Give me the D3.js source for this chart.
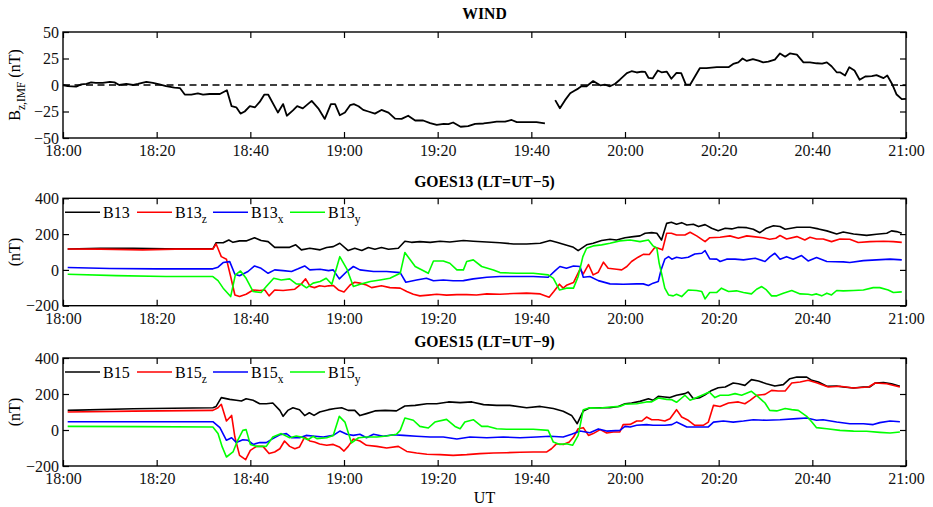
<!DOCTYPE html>
<html>
<head>
<meta charset="utf-8">
<script src="https://cdn.jsdelivr.net/npm/d3@7"></script>
<style>
  body { margin: 0; background: #fff; }
  svg { display: block; font-family: "Liberation Serif", "Times New Roman", serif; }
  svg text { font-family: "Liberation Serif", "Times New Roman", serif; }
</style>
</head>
<body>
<svg id="chart" width="933" height="507"></svg>
<script>
// Time axis: minutes after 18:00 UT
const timeTicks = [0, 20, 40, 60, 80, 100, 120, 140, 160, 180];
const timeLabels = ["18:00", "18:20", "18:40", "19:00", "19:20", "19:40", "20:00", "20:20", "20:40", "21:00"];

const windTicks = [-50, -25, 0, 25, 50];
const goesTicks = [-200, 0, 200, 400];

// WIND IMF Bz (nT); null marks the data gap
const windBz = [[0,0],[1,-1],[2.8,-1.5],[3.9,0.6],[5,1],[6,2.5],[7,2],[8.5,2],[10,3],[11,2.5],[12,0],[13.5,1],[15,0],[16,1],[17.8,3],[19.2,2],[20.6,0.6],[22,-1],[23.8,-2.5],[25,-3],[26,-9],[27.4,-9],[28.8,-8],[29.9,-9],[31.3,-8.5],[33.5,-8.5],[35,-5],[36,-20],[37,-21],[37.9,-27],[38.8,-25],[39.9,-20],[41,-21],[42,-16],[43,-9],[43.8,-9],[45.9,-26],[47,-18],[47.8,-29],[49.1,-24],[50,-20],[51.2,-22],[53.1,-15],[54.5,-22],[55.9,-32],[57.2,-18],[58.1,-18],[59.1,-28.5],[60.2,-26],[61.3,-19],[62.1,-18],[63.1,-20],[64.1,-23.5],[65.2,-25],[66.6,-27],[68,-23.5],[69.5,-26],[70.9,-31.7],[72.3,-32],[73.7,-29],[75.2,-33.5],[76.9,-33.5],[78.4,-36],[79.8,-37.6],[81.3,-36.6],[82.3,-37],[83.3,-35.4],[84.9,-39.4],[86.5,-38.8],[88,-36.6],[89.8,-36.3],[91.2,-35.4],[92.6,-34.5],[94.4,-34.5],[95.8,-33],[96.9,-35],[99,-35],[101.1,-35],[102.9,-36.3],[104,null],[105.1,-14.3],[106.1,-22],[107.2,-14.3],[108.3,-7.8],[109.1,-5.6],[110,-3.4],[110.7,-1.2],[111.8,-1.2],[113.2,3.7],[114.7,-0.3],[115.7,0.3],[116.8,-1.2],[117.9,1.2],[118.9,5],[120.4,11.2],[121.4,13],[122.5,11.8],[123.6,12.7],[124.3,12.4],[125,6.8],[125.9,6.2],[127,13.7],[127.8,12],[128.9,12.7],[129.9,5.9],[131,11.5],[132,11.2],[133,0.3],[133.9,0.3],[136,16],[137.4,16],[139.6,16.8],[142.1,16.8],[143.1,19.9],[144.2,21.4],[145.1,25],[146,22.7],[147.3,24.5],[148.5,23],[149.5,21.4],[150.6,22],[152,24],[153.1,29.8],[154.2,26.7],[155.2,29.8],[156.7,28.6],[158.1,21.4],[159.5,21.4],[160.9,20.5],[162.1,20.2],[163.1,21.4],[164.1,17.7],[165.2,12],[165.9,12],[167,9],[167.9,16.8],[169,13.7],[170.1,5],[171.3,8],[172.7,8.4],[173.7,9.3],[175.2,6.5],[176,9],[177,1.2],[178,-9],[179.1,-13.3],[180,-13]];

// GOES13 magnetometer (nT)
const g13B = [[1,117],[8,120],[15,121],[22,118],[32,118],[32.7,152],[34.2,152],[35.4,167],[36.3,154],[37.7,162],[39.1,162],[40.9,180],[42.3,164],[43.8,158],[45.2,126],[46.6,126],[48.4,126],[49.7,140],[50.9,112],[52.7,121],[54.9,112],[56.3,125],[57.7,130],[59.1,149],[60.9,108],[62.3,121],[63.8,108],[65.2,125],[66.6,115],[68,125],[69.5,115],[71.6,121],[73,160],[74.4,154],[76.2,158],[78.4,154],[80.5,160],[82.6,156],[85.5,164],[87.6,160],[90.5,156],[93.3,152],[96.2,145],[99,145],[101.9,149],[104,164],[105.4,154],[109,126],[110,108],[111.8,140],[113.2,149],[115,164],[116.8,171],[118.2,167],[120,180],[121.8,186],[123.2,190],[124.3,205],[125.7,208],[126.8,205],[127.8,167],[128.9,260],[129.9,266],[131,255],[132.1,264],[133.2,251],[134.6,255],[135.7,242],[137.1,253],[138.5,233],[139.9,219],[141.4,233],[142.8,229],[144.2,238],[146,236],[147.4,227],[148.8,208],[150.2,233],[151.7,247],[153.1,242],[154.2,227],[156.7,238],[159.5,238],[161.3,229],[163.1,218],[165.2,201],[166.6,212],[168.8,201],[171.6,193],[173.7,199],[175.9,205],[176.9,218],[178,214],[179.1,205]];
const g13Bz = [[1,117],[8,116],[17,112],[24,116],[32,116],[32.7,145],[33.8,74],[34.9,60],[35.8,-37],[36.7,-140],[37.7,-149],[39.1,-136],[40.6,-112],[42,-115],[43.1,-112],[44,-145],[45.2,-112],[47,-115],[49.5,-108],[50.9,-78],[51.8,-50],[52.8,-93],[53.7,-99],[54.8,-89],[55.9,-93],[56.7,-89],[57.7,-87],[58.8,-112],[60,-123],[61.3,-84],[62.3,-69],[63.4,-74],[64.8,-84],[65.9,-99],[68,-89],[69.8,-99],[72,-102],[73.4,-121],[74.8,-136],[76.2,-145],[78,-141],[79.8,-136],[81.9,-141],[84.1,-138],[86.2,-138],[88.3,-140],[90.5,-134],[93.3,-136],[96.2,-132],[99,-130],[101.9,-134],[103.8,-153],[104.8,-121],[106,-80],[106.8,-102],[107.5,-86],[109,-71],[110.4,4],[111.1,-22],[112.2,30],[113.2,-28],[114.3,-13],[115.4,43],[116.4,9],[118.2,4],[119.3,0],[120.4,19],[121.4,47],[122.8,71],[123.9,87],[125.2,86],[126.4,126],[127.1,121],[128,112],[128.9,205],[129.9,205],[131,195],[132.8,195],[133.9,210],[135.3,190],[137.1,158],[138.1,180],[140.3,182],[142.4,190],[144.2,177],[146,190],[147.4,186],[149.5,180],[150.9,171],[152.2,177],[153.1,192],[154.5,173],[156.7,186],[158.4,167],[159.5,182],[160.9,173],[162.3,173],[164.1,158],[165.9,173],[168,171],[169.8,153],[172.3,158],[175.2,160],[177.3,158],[179.1,154]];
const g13Bx = [[1,13],[10,8],[20,6],[32,6],[33.1,15],[34.2,41],[35.6,46],[36.7,-24],[37.7,-33],[39.5,-9],[40.9,22],[42.3,9],[43.8,-19],[45.2,0],[47,-4],[48.8,-9],[50.2,6],[51.6,22],[52.7,0],[54.9,4],[56.7,-4],[57.7,0],[59,-50],[60.6,-9],[62,19],[63.4,0],[66.3,-9],[69.1,-9],[72,-15],[73.2,-69],[75.5,-56],[77.6,-47],[79.1,-61],[81.2,-56],[83.3,-61],[85.5,-60],[87.6,-50],[90.5,-41],[93.3,-37],[96.9,-37],[100.4,-37],[103.6,-41],[105.1,-4],[106.1,19],[107.5,9],[109,22],[110.4,19],[111.1,-41],[112.5,-37],[114.3,-60],[116.8,-78],[119.6,-80],[122.5,-78],[123.9,-78],[125,-87],[126,-74],[127.1,-65],[127.7,0],[128.5,60],[129.3,74],[130,60],[131,71],[132.1,65],[133.5,71],[134.9,89],[136.4,93],[137.1,108],[138.1,61],[139.6,60],[140.3,47],[141.7,60],[143.5,60],[145.3,56],[147.8,65],[149.9,47],[151,74],[152,93],[153.1,60],[154.5,74],[155.9,60],[157.7,80],[159.1,50],[160.9,69],[163.1,47],[166.6,45],[168,41],[170.9,52],[173.7,56],[176.6,60],[179.1,56]];
const g13By = [[1,-24],[11.4,-32],[22,-37],[32,-37],[33.1,-60],[34.2,-102],[35.8,-149],[36.8,-28],[37.9,-6],[39.1,-47],[40.6,-121],[42.3,-126],[43.4,-93],[45,-47],[46.6,-56],[48.4,-50],[49.8,-78],[50.9,-80],[52,-100],[53.4,-74],[54.9,-65],[56.2,-47],[57.4,-80],[59.1,74],[60.6,6],[62,-93],[63.8,-78],[65.6,-65],[67.7,-56],[69.8,-47],[72,-19],[73,97],[75.2,19],[78,-19],[79.1,50],[81.2,50],[82.6,37],[84.1,0],[85.5,0],[86.2,47],[87.6,56],[89.4,19],[91.9,0],[93.3,-15],[96.9,-19],[100.4,-19],[103.6,-28],[104.7,-47],[106,-112],[107.5,-102],[109,-102],[110,-37],[111,74],[111.8,121],[113.2,134],[115,140],[116.8,149],[118.9,162],[121.1,167],[123.2,158],[125,167],[126,134],[126.8,121],[127.3,37],[127.8,-19],[128.5,-102],[129.3,-140],[130.3,-145],[131,-136],[132.1,-149],[133.5,-112],[135.3,-115],[136.4,-121],[137.1,-162],[138.1,-126],[139.6,-126],[140.6,-102],[142.1,-121],[143.8,-117],[145.3,-126],[147,-134],[148.1,-108],[149.2,-93],[150.2,-112],[151.3,-145],[152.4,-145],[153.8,-130],[155.6,-115],[157.4,-134],[159.1,-136],[159.9,-140],[160.9,-134],[162,-145],[163.1,-130],[164.1,-140],[165.2,-115],[166.6,-117],[168.8,-115],[170.9,-112],[173,-99],[174.4,-99],[176.2,-112],[177.3,-126],[179.1,-123]];

// GOES15 magnetometer (nT)
const g15B = [[1,109],[15,118],[32,124],[32.7,131],[33.8,180],[35.6,170],[37,165],[38.1,161],[39.1,174],[40.6,165],[42,146],[43.4,146],[44.8,150],[46.3,109],[47,76],[48,109],[49.1,124],[50.5,113],[51.6,80],[52.6,96],[53.6,81],[54.8,100],[56.7,113],[58.1,119],[59.5,124],[60.9,109],[62.3,109],[63.4,80],[64.8,91],[66.6,106],[68.8,109],[71.2,106],[73,133],[75.2,137],[77.7,146],[79.8,146],[82.3,156],[84.8,152],[87.3,156],[89.8,141],[92.6,137],[95.4,137],[99,124],[101.9,131],[104.7,119],[106.8,104],[108.6,81],[109.8,35],[111.1,106],[112.5,124],[114.7,124],[116.8,124],[118.6,131],[120,146],[121.4,150],[123.2,159],[125,174],[126,165],[127.1,187],[128.5,183],[129.6,180],[131,193],[132.8,202],[133.5,211],[134.6,174],[136,180],[137.1,196],[138.5,220],[139.9,235],[141.4,239],[143.1,261],[144.2,257],[145.6,248],[147,280],[148.5,272],[150.2,257],[152,244],[153.8,252],[155.2,285],[156.7,294],[158.8,294],[159.9,276],[161.3,267],[163.1,243],[165.2,244],[166.6,239],[168.8,233],[170.9,239],[172.3,239],[173.4,261],[175.2,263],[176.9,257],[178.7,243]];
const g15Bz = [[1,100],[15,105],[32,109],[33.1,124],[33.8,143],[34.9,50],[36,81],[36.7,-39],[37.7,-141],[39,-165],[40,-113],[41.3,-91],[42.7,-91],[44,-131],[45.2,-122],[46.3,-104],[47.3,-61],[48.4,-91],[49.5,-104],[50.5,-94],[51.6,-39],[52.7,-61],[53.7,-67],[54.8,-78],[56.3,-85],[57.7,-80],[59,-94],[60,-117],[60.9,-91],[62,-50],[63.4,-61],[64.8,-85],[67,-91],[69.1,-100],[71.6,-91],[73.4,-119],[75.5,-128],[77.7,-135],[80.5,-137],[83.3,-141],[86.2,-137],[89,-131],[91.9,-128],[94.7,-126],[97.6,-124],[100.4,-122],[103.3,-122],[104.3,-104],[105.4,-76],[106.8,-81],[108.1,-67],[109,-39],[110,7],[111.1,13],[112.2,-30],[113.2,-20],[114.7,2],[116.1,-17],[117.5,-11],[118.9,-11],[119.6,30],[121.1,31],[122.5,50],[123.6,50],[124.6,72],[125.7,57],[127.1,57],[128.5,50],[129.6,63],[131,113],[132.1,72],[133.5,54],[134.9,26],[136.7,26],[137.8,44],[138.9,137],[140.3,131],[142.1,150],[144.2,156],[145.6,146],[146.7,165],[148.1,193],[149.9,198],[151.3,220],[152.7,217],[154.2,217],[155.6,261],[157.4,267],[159.1,276],[160.9,263],[163.4,239],[165.9,243],[168.8,233],[172,239],[173.4,261],[175.9,257],[178.7,239]];
const g15Bx = [[1,46],[32,46],[33.5,13],[34.9,-57],[36,-43],[37,-69],[38.4,-54],[39.5,-57],[40.6,-80],[42,-70],[43.4,-70],[44.8,-48],[46.3,-26],[47.7,-20],[48.8,-43],[50.5,-43],[51.9,-30],[53.8,-35],[55.6,-39],[57.7,-30],[59.1,-6],[60.6,-24],[62,-30],[63.4,-24],[64.8,-43],[66.3,-24],[68.4,-35],[70.5,-26],[72.7,-30],[75.5,-35],[78.4,-39],[81.2,-39],[84.1,-50],[86.9,-39],[90.5,-43],[94,-39],[97.6,-43],[101.1,-39],[104,-35],[106.8,-39],[108.6,-24],[110.4,-6],[112.5,-15],[114.3,6],[116.1,-6],[118.9,-2],[120,20],[121.1,17],[122.5,26],[124.6,30],[126,26],[128.5,26],[130,30],[131,44],[132.1,31],[133.2,17],[135.3,17],[137.8,17],[138.9,44],[141,50],[143.1,44],[145.3,50],[147.4,57],[150.2,54],[153.1,57],[156.7,63],[158.8,67],[160.9,54],[162.3,57],[165.2,44],[168,35],[170.9,35],[173,30],[174.4,41],[176.6,50],[178.7,46]];
const g15By = [[1,20],[16,19],[32,17],[33.1,-20],[34,-94],[34.9,-150],[36.3,-122],[37.3,-57],[38.4,-2],[39.1,2],[40,-80],[41.3,-91],[43.4,-91],[44.8,-39],[46.6,-20],[48.4,-43],[49.8,-33],[50.9,-39],[52.3,-54],[53.4,-35],[54.2,-48],[56.3,-43],[57.7,-30],[59,76],[60.2,44],[61.6,-72],[63.1,-43],[64.8,-39],[67,-39],[69.1,-33],[71.2,-24],[72,-2],[73,67],[74.8,54],[76.2,20],[78,11],[79.4,44],[81.9,59],[83.7,20],[84.8,7],[85.8,44],[87.6,57],[89.4,20],[90.8,20],[92.6,7],[94.7,4],[97.6,4],[100.4,4],[103.6,-2],[104.7,-67],[106.1,-80],[107.5,-76],[108.8,-85],[110,-30],[111.1,113],[112.5,124],[114.7,122],[116.8,128],[118.9,131],[120,143],[122.5,146],[124.6,156],[125.7,156],[127.1,178],[128.9,170],[129.9,169],[131,154],[132.8,193],[133.9,165],[135.3,180],[136.7,196],[138,211],[139.2,180],[140.3,193],[142.1,193],[143.5,202],[144.9,193],[147,215],[148.5,183],[149.9,150],[150.9,109],[152.4,106],[154.2,119],[155.6,113],[157,109],[158.8,76],[159.9,44],[160.9,13],[163.1,7],[165.9,-2],[168.8,-6],[171.6,-7],[174.4,-13],[176.6,-17],[178.7,-11]];

const seriesColors = ["#000000", "#ff0000", "#0000ff", "#00ff00"];
const componentSubs = ["", "z", "x", "y"];

const svg = d3.select("#chart");
const x = d3.scaleLinear().domain([0, 180]).range([63, 906]);

// strip the axis domain path and restyle tick text
function styleAxis(a) {
  a.attr("font-family", null).attr("font-size", 16);
  a.select(".domain").remove();
  a.selectAll("text").attr("fill", "#111");
}

function drawPanel(p) {
  const y = d3.scaleLinear().domain(p.domain).range([p.bottom, p.top]);
  const g = svg.append("g");

  // axes with inward ticks
  g.append("g").attr("transform", `translate(0,${p.bottom})`)
    .call(d3.axisBottom(x).tickValues(timeTicks).tickSize(-6).tickPadding(7)
      .tickFormat((d, i) => timeLabels[i]))
    .call(styleAxis);
  g.append("g").attr("transform", `translate(0,${p.top})`)
    .call(d3.axisTop(x).tickValues(timeTicks).tickSize(-6).tickFormat(""))
    .call(styleAxis);
  g.append("g").attr("transform", `translate(${x(0)},0)`)
    .call(d3.axisLeft(y).tickValues(p.ticks).tickSize(-6).tickPadding(4))
    .call(styleAxis);
  g.append("g").attr("transform", `translate(${x(180)},0)`)
    .call(d3.axisRight(y).tickValues(p.ticks).tickSize(-6).tickFormat(""))
    .call(styleAxis);
  g.selectAll(".tick line").attr("stroke", "#000").attr("stroke-width", 1.2);

  if (p.zeroLine) {
    g.append("line")
      .attr("x1", x(0)).attr("x2", x(180))
      .attr("y1", y(0)).attr("y2", y(0))
      .attr("stroke", "#000").attr("stroke-width", 1.3)
      .attr("stroke-dasharray", "7,4.5");
  }

  const line = d3.line()
    .defined(d => d[1] !== null)
    .x(d => x(d[0])).y(d => y(d[1]));

  p.series.forEach((s, i) => {
    g.append("path").datum(s)
      .attr("fill", "none")
      .attr("stroke", seriesColors[i])
      .attr("stroke-width", p.width || 1.6)
      .attr("stroke-linejoin", "round")
      .attr("d", line);
  });

  // frame
  g.append("rect")
    .attr("x", x(0)).attr("y", p.top)
    .attr("width", x(180) - x(0)).attr("height", p.bottom - p.top)
    .attr("fill", "none").attr("stroke", "#000").attr("stroke-width", 1.4);

  // title
  g.append("text").attr("x", (x(0) + x(180)) / 2).attr("y", p.titleY)
    .attr("text-anchor", "middle").attr("font-weight", "bold").attr("font-size", 15.7)
    .text(p.title);

  // y label
  const yl = g.append("text")
    .attr("transform", `translate(20,${(p.top + p.bottom) / 2}) rotate(-90)`)
    .attr("text-anchor", "middle").attr("font-size", 16);
  p.yLabel.forEach(part => {
    const t = yl.append("tspan").text(part.text);
    if (part.sub) t.attr("font-size", 11.5).attr("dy", 5);
    if (part.after) t.attr("dy", -5);
  });

  // legend
  if (p.legend) {
    const lx = [65, 137, 213, 290];
    const ly = p.top + 14;
    p.legend.forEach((name, i) => {
      g.append("line")
        .attr("x1", lx[i]).attr("x2", lx[i] + 35)
        .attr("y1", ly).attr("y2", ly)
        .attr("stroke", seriesColors[i]).attr("stroke-width", 1.6);
      const t = g.append("text").attr("x", lx[i] + 38).attr("y", ly + 6)
        .attr("font-size", 16);
      t.append("tspan").text(name);
      if (componentSubs[i]) {
        t.append("tspan").attr("font-size", 11.5).attr("dy", 5).text(componentSubs[i]);
      }
    });
  }
}

drawPanel({
  top: 32, bottom: 138, domain: [-50, 50], ticks: windTicks,
  title: "WIND", titleY: 18.5, zeroLine: true, width: 1.8,
  series: [windBz],
  yLabel: [{ text: "B" }, { text: "z,IMF", sub: true }, { text: " (nT)", after: true }]
});

drawPanel({
  top: 198.3, bottom: 305.7, domain: [-200, 400], ticks: goesTicks,
  title: "GOES13 (LT=UT\u22125)", titleY: 186.5,
  series: [g13B, g13Bz, g13Bx, g13By],
  legend: ["B13", "B13", "B13", "B13"],
  yLabel: [{ text: "(nT)" }]
});

drawPanel({
  top: 358, bottom: 466, domain: [-200, 400], ticks: goesTicks,
  title: "GOES15 (LT=UT\u22129)", titleY: 346.5,
  series: [g15B, g15Bz, g15Bx, g15By],
  legend: ["B15", "B15", "B15", "B15"],
  yLabel: [{ text: "(nT)" }]
});

svg.append("text").attr("x", (x(0) + x(180)) / 2).attr("y", 503)
  .attr("text-anchor", "middle").attr("font-size", 16).text("UT");
</script>
</body>
</html>
